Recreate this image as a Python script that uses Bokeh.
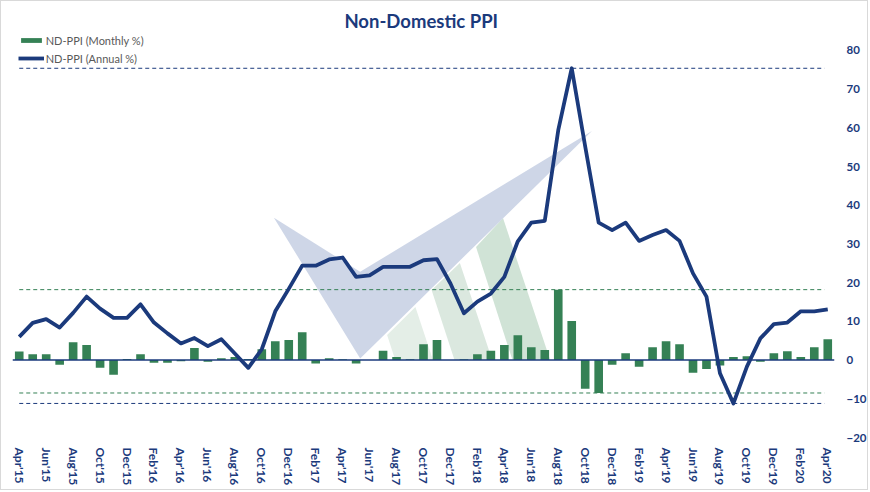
from bokeh.plotting import figure
from bokeh.models import Range1d, FixedTicker, Legend, LegendItem
from bokeh.embed import file_html
from bokeh.resources import INLINE

months = ["Apr'15", "May'15", "Jun'15", "Jul'15", "Aug'15", "Sep'15", "Oct'15", "Nov'15", "Dec'15",
          "Jan'16", "Feb'16", "Mar'16", "Apr'16", "May'16", "Jun'16", "Jul'16", "Aug'16", "Sep'16",
          "Oct'16", "Nov'16", "Dec'16", "Jan'17", "Feb'17", "Mar'17", "Apr'17", "May'17", "Jun'17",
          "Jul'17", "Aug'17", "Sep'17", "Oct'17", "Nov'17", "Dec'17", "Jan'18", "Feb'18", "Mar'18",
          "Apr'18", "May'18", "Jun'18", "Jul'18", "Aug'18", "Sep'18", "Oct'18", "Nov'18", "Dec'18",
          "Jan'19", "Feb'19", "Mar'19", "Apr'19", "May'19", "Jun'19", "Jul'19", "Aug'19", "Sep'19",
          "Oct'19", "Nov'19", "Dec'19", "Jan'20", "Feb'20", "Mar'20", "Apr'20"]

monthly = [2.2, 1.5, 1.5, -1.2, 4.6, 3.9, -2.0, -3.8, 0.3, 1.5,
           -0.7, -0.7, -0.3, 3.1, -0.4, 0.5, 0.8, 0.3, 2.8, 4.9,
           5.2, 7.2, -0.9, 0.5, 0.2, -0.9, 0.0, 2.4, 0.8, 0.2,
           4.1, 5.2, 0.0, 0.2, 1.5, 2.4, 3.9, 6.4, 3.3, 2.6,
           18.2, 10.1, -7.4, -8.5, -1.2, 1.8, -1.7, 3.3, 4.9, 4.1,
           -3.3, -2.3, -1.4, 0.8, 1.0, -0.4, 1.8, 2.3, 0.8, 3.3,
           5.4]

annual = [6.0, 9.6, 10.6, 8.4, 12.2, 16.4, 13.3, 10.9, 10.9, 14.4,
          9.7, 6.9, 4.3, 5.7, 3.6, 5.4, 1.7, -2.0, 2.8, 12.6,
          18.4, 24.4, 24.4, 26.0, 26.5, 21.5, 21.9, 24.1, 24.1, 24.1,
          25.8, 26.1, 19.8, 12.1, 15.1, 17.2, 21.5, 30.7, 35.5, 36.0,
          59.4, 75.4, 55.2, 35.5, 33.6, 35.5, 30.8, 32.3, 33.6, 30.8,
          22.4, 16.4, -3.4, -11.2, -1.7, 5.6, 9.3, 9.7, 12.6, 12.6,
          13.1]

y_ticks = [-20, -10, 0, 10, 20, 30, 40, 50, 60, 70, 80]

# decorative background shapes (data coordinates)
arrow_x = [18.9, 25.3, 42.5, 25.3]
arrow_y = [36.8, 22.8, 59.2, 0.4]
stripes_x = [[27.3, 29.4, 30.7, 27.9], [30.6, 32.7, 35.1, 32.3], [33.9, 35.9, 39.4, 36.6]]
stripes_y = [[6.5, 13.7, 0, 0], [18.1, 25.1, 0, 0], [29.2, 36.7, 0, 0]]

NAVY = "#1b3a7c"
GREEN = "#358155"
FONT = "Lato"

x = list(range(len(months)))

p = figure(width=868, height=490, output_backend="svg", toolbar_location=None,
           x_range=Range1d(-0.5, len(months) - 0.5), y_range=Range1d(-20, 84.9),
           y_axis_location="right",
           min_border_left=11, min_border_right=31, min_border_top=30, min_border_bottom=54,
           background_fill_color="white", border_fill_color="white", outline_line_color=None)
p.styles = {"border": "1px solid #d9d9d9"}

p.title.text = "Non-Domestic  PPI"
p.title.align = "center"
p.title.offset = 10
p.title.standoff = 0
p.title.text_font = FONT
p.title.text_font_size = "18.5px"
p.title.text_font_style = "bold"
p.title.text_color = NAVY

p.xgrid.visible = False
p.ygrid.visible = False

p.patches(stripes_x, stripes_y, fill_color=["#e4eee7", "#dbe8df", "#d0e3d6"], line_color=None)
p.patch(arrow_x, arrow_y, fill_color="#cbd4e6", fill_alpha=0.95, line_color=None)

bars = p.vbar(x=x, top=monthly, width=0.64, fill_color=GREEN, line_color=None)

x0, x1 = 0, len(months) - 1.25
for val, col in [(max(annual), NAVY), (min(annual), NAVY), (max(monthly), GREEN), (min(monthly), GREEN)]:
    p.line([x0, x1], [val, val], line_color=col, line_width=1, line_dash="4 3")

p.line([-0.5, len(months) - 0.5], [0, 0], line_color=NAVY, line_width=1.5)

line = p.line(x, annual, line_color=NAVY, line_width=3.8, line_join="round")

xa = p.xaxis[0]
xa.ticker = FixedTicker(ticks=list(range(0, len(months), 2)))
xa.major_label_overrides = {i: months[i] for i in range(0, len(months), 2)}
xa.major_label_orientation = "vertical"
xa.axis_line_color = None
xa.major_tick_line_color = None
xa.minor_tick_line_color = None
xa.major_tick_out = 0
xa.major_tick_in = 0
xa.minor_tick_out = 0
xa.minor_tick_in = 0
xa.major_label_standoff = 10
xa.major_label_text_font = FONT
xa.major_label_text_font_style = "bold"
xa.major_label_text_font_size = "12px"
xa.major_label_text_color = NAVY

ya = p.yaxis[0]
ya.ticker = FixedTicker(ticks=y_ticks)
ya.axis_line_color = None
ya.major_tick_line_color = None
ya.minor_tick_line_color = None
ya.major_tick_out = 0
ya.major_tick_in = 0
ya.minor_tick_out = 0
ya.minor_tick_in = 0
ya.major_label_standoff = 12
ya.major_label_text_font = FONT
ya.major_label_text_font_style = "bold"
ya.major_label_text_font_size = "11.5px"
ya.major_label_text_color = NAVY

legend = Legend(items=[LegendItem(label="ND-PPI (Monthly %)", renderers=[bars]),
                       LegendItem(label="ND-PPI (Annual %)", renderers=[line])],
                location=(5.7, 372), orientation="vertical",
                glyph_width=26, glyph_height=6, label_height=14, spacing=4,
                padding=0, margin=0, label_standoff=2,
                label_text_font=FONT, label_text_font_size="11px", label_text_color="#595959",
                background_fill_alpha=0, border_line_color=None)
p.add_layout(legend, "center")

open("out.html", "w").write(file_html(p, INLINE))
